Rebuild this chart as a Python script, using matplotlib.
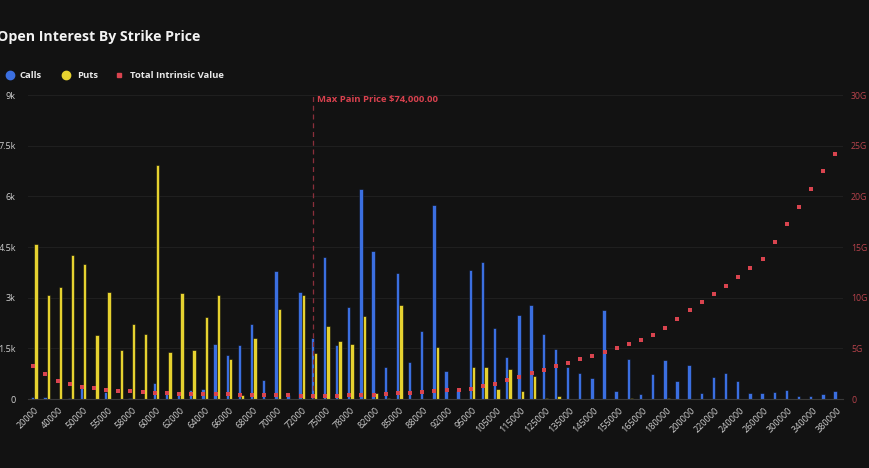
import matplotlib
matplotlib.use('Agg')
import matplotlib.pyplot as plt
from matplotlib.lines import Line2D
import numpy as np

plt.rcParams['font.family'] = ['Open Sans', 'DejaVu Sans']

# Strike prices (categories)
strikes = [20000, 30000, 40000, 45000, 50000, 52000, 55000, 56000, 58000, 59000,
           60000, 61000, 62000, 63000, 64000, 65000, 66000, 67000, 68000, 69000,
           70000, 71000, 72000, 74000, 75000, 76000, 78000, 80000, 82000, 84000,
           85000, 86000, 88000, 90000, 92000, 94000, 95000, 100000, 105000, 110000,
           115000, 120000, 125000, 130000, 135000, 140000, 145000, 150000, 155000, 160000,
           165000, 170000, 180000, 190000, 200000, 210000, 220000, 230000, 240000, 250000,
           260000, 280000, 300000, 320000, 340000, 360000, 380000]

# Open interest, calls
calls = [60, 60, 0, 30, 330, 0, 210, 0, 40, 0,
         470, 230, 190, 270, 290, 1630, 1300, 1610, 2230, 550,
         3800, 110, 3180, 1820, 4190, 1590, 2720, 6220, 4380, 940,
         3730, 1090, 2020, 5740, 830, 230, 3820, 4050, 2090, 1250,
         2480, 2780, 1930, 1470, 940, 760, 610, 2630, 230, 1180,
         150, 730, 1150, 520, 1010, 180, 660, 770, 520, 170,
         170, 200, 270, 100, 100, 150, 240]

# Open interest, puts
puts = [4580, 3090, 3320, 4260, 3990, 1890, 3180, 1440, 2210, 1920,
        6920, 1390, 3150, 1440, 2440, 3080, 1180, 110, 1800, 0,
        2670, 0, 3090, 1370, 2150, 1710, 1620, 2470, 170, 30,
        2790, 0, 0, 1540, 0, 0, 940, 960, 290, 890,
        250, 680, 30, 80, 0, 0, 0, 0, 0, 30,
        0, 0, 30, 0, 0, 0, 0, 0, 0, 0,
        0, 0, 0, 0, 0, 0, 0]

# Total intrinsic value (in G)
intrinsic_g = [3.23, 2.44, 1.75, 1.45, 1.15, 1.05, 0.92, 0.76, 0.76, 0.66,
               0.56, 0.56, 0.53, 0.53, 0.50, 0.46, 0.46, 0.43, 0.40, 0.38,
               0.36, 0.35, 0.34, 0.33, 0.33, 0.34, 0.36, 0.40, 0.44, 0.50,
               0.55, 0.62, 0.69, 0.79, 0.86, 0.92, 0.99, 1.32, 1.51, 1.84,
               2.14, 2.53, 2.83, 3.23, 3.58, 3.92, 4.28, 4.67, 5.07, 5.43,
               5.82, 6.28, 7.04, 7.90, 8.75, 9.54, 10.36, 11.18, 12.07, 12.93,
               13.82, 15.53, 17.24, 18.98, 20.76, 22.48, 24.21]

max_pain = 74000
left_ticks = [0, 1500, 3000, 4500, 6000, 7500, 9000]
left_labels = ['0', '1.5k', '3k', '4.5k', '6k', '7.5k', '9k']
right_ticks = [0, 5, 10, 15, 20, 25, 30]
right_labels = ['0', '5G', '10G', '15G', '20G', '25G', '30G']

bg = '#121212'
blue = '#3b6fe0'
yellow = '#e6d230'
red = '#d9444f'

fig = plt.figure(figsize=(8.7, 4.68), dpi=100, facecolor=bg)
ax = fig.add_axes([0.0326, 0.1474, 0.9361, 0.6496], facecolor=bg)

x = np.arange(len(strikes))
w = 0.28
ax.bar(x - w/2, calls, width=w, color=blue, edgecolor='#0d0d0d', linewidth=0.4, zorder=2)
ax.bar(x + w/2, puts, width=w, color=yellow, edgecolor='#0d0d0d', linewidth=0.4, zorder=2)

ax.set_xlim(-0.5, len(strikes) - 0.5)
ax.set_ylim(0, 9000)
ax.set_yticks(left_ticks)
ax.set_yticklabels(left_labels)
ax.set_xticks(x[::2])
ax.set_xticklabels([str(s) for s in strikes[::2]], rotation=45, ha='right',
                   rotation_mode='anchor')
ax.tick_params(axis='x', length=0, pad=5, labelsize=6.5, colors='#d0d0d0')
ax.tick_params(axis='y', length=0, pad=9, labelsize=6.5, colors='#d0d0d0')
ax.grid(axis='y', color='#1f1f1f', linewidth=0.8, zorder=0)
for side in ['top', 'right', 'left']:
    ax.spines[side].set_visible(False)
ax.spines['bottom'].set_color('#3a3a3a')
ax.spines['bottom'].set_zorder(3)

ax2 = ax.twinx()
ax2.scatter(x - 0.1, intrinsic_g, marker='s', s=6.5, color=red, zorder=4, linewidths=0)
ax2.set_ylim(0, 30)
ax2.set_yticks(right_ticks)
ax2.set_yticklabels(right_labels)
ax2.tick_params(axis='y', length=0, pad=6, labelsize=6.3, colors='#b8434c')
for side in ['top', 'right', 'left', 'bottom']:
    ax2.spines[side].set_visible(False)

# Max pain marker
mp = strikes.index(max_pain)
ax.axvline(mp - 0.06, color='#8a2f3b', linestyle=(0, (4, 3)), linewidth=0.9, zorder=3)
ax.text(mp + 0.25, 8880, 'Max Pain Price $%s' % format(max_pain, ',.2f'),
        color='#d8414e', fontsize=6.8, fontweight='bold', va='center', ha='left')

# Title
fig.text(-0.003, 1 - 37/468, 'Open Interest By Strike Price', color='#f2f2f2',
         fontsize=10.2, fontweight='bold', va='center', ha='left')

# Legend
ly = 1 - 75/468
items = [(10, 20, 'o', blue, 6, 'Calls'),
         (66, 77, 'o', yellow, 6, 'Puts'),
         (119, 130, 's', red, 2.5, 'Total Intrinsic Value')]
for mx, tx, mk, col, ms, lab in items:
    fig.add_artist(Line2D([mx/870], [ly], marker=mk, color=col, markersize=ms,
                          linestyle='none', transform=fig.transFigure))
    fig.text(tx/870, ly, lab, color='#e8e8e8', fontsize=6.8, fontweight='bold',
             va='center', ha='left')

fig.savefig('out.png', dpi=100, facecolor=bg)
